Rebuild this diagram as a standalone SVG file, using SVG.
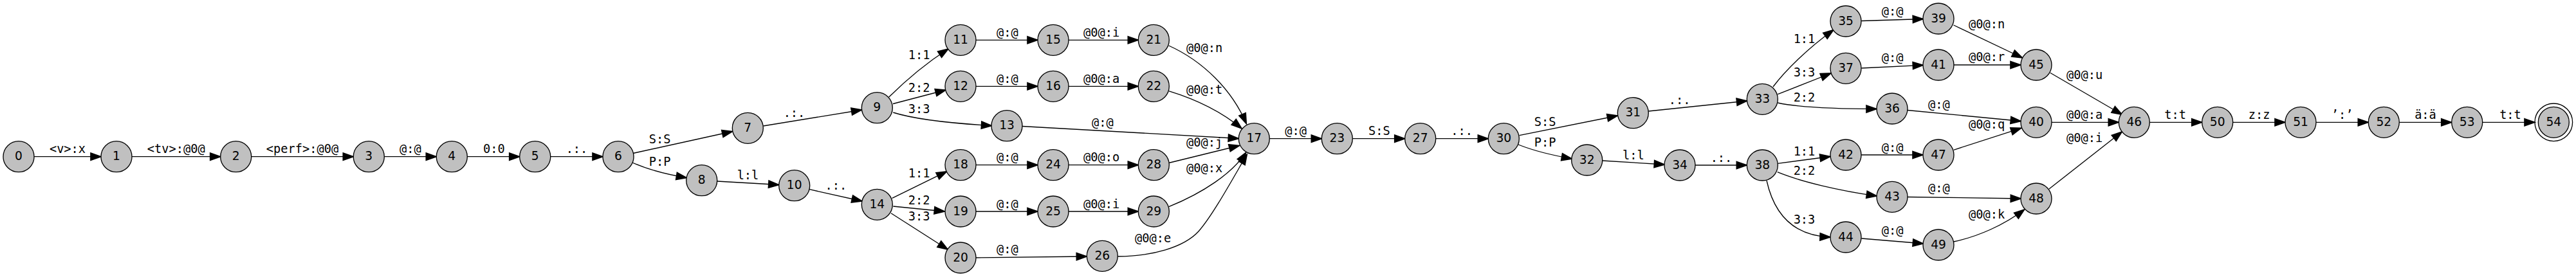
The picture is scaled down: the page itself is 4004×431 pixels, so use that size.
<svg xmlns="http://www.w3.org/2000/svg" width="4004" height="431" viewBox="0 0 4004 431">
<style>
.n circle{fill:#c0c0c0;stroke:#000;stroke-width:1.33}
.n circle.o{fill:none}
.n text{font-family:"DejaVu Sans",sans-serif;font-size:18.67px;text-anchor:middle;fill:#000}
.e path{fill:none;stroke:#000;stroke-width:1.33;marker-end:url(#arr)}
.e text{font-family:"DejaVu Sans Mono",monospace;font-size:18.67px;text-anchor:middle;fill:#000}
</style>
<defs>
<marker id="arr" markerUnits="userSpaceOnUse" markerWidth="16" markerHeight="12" viewBox="0 0 13.3 9.34" refX="13.3" refY="4.67" orient="auto" overflow="visible">
<path d="M0,0 L13.3,4.67 L0,9.34 Z" fill="#000" stroke="#000" stroke-width="1.33"/>
</marker>
</defs>
<rect width="4004" height="431" fill="#fff"/>
<g id="edges" class="e">
<path d="M53,243.7 L157,243.7"/><text x="105" y="238.4">&lt;v&gt;:x</text>
<path d="M205,243.7 L342.7,243.7"/><text x="273.8" y="238.4">&lt;tv&gt;:@0@</text>
<path d="M390.7,243.7 L549.3,243.7"/><text x="470" y="238.4">&lt;perf&gt;:@0@</text>
<path d="M597.3,243.7 L678.3,243.7"/><text x="637.8" y="238.4">@:@</text>
<path d="M726.3,243.7 L807.7,243.7"/><text x="767.8" y="238.4">0:0</text>
<path d="M855.7,243.7 L937,243.7"/><text x="896.5" y="238.4">.:.</text>
<path d="M984,238.5 L1138.5,204.5"/><text x="1025.7" y="222.5">S:S</text>
<path d="M983,253 C1010,265 1040,272 1067.3,276.5"/><text x="1025.7" y="258">P:P</text>
<path d="M1186.3,196 L1339.5,171"/><text x="1234.5" y="181.5">.:.</text>
<path d="M1114.7,282 L1210.7,287.5"/><text x="1162.5" y="279">l:l</text>
<path d="M1258.3,294.7 L1340,313"/><text x="1299.3" y="295">.:.</text>
<path d="M1381.7,151 C1405,128 1440,98 1474,76"/><text x="1428.7" y="91.5">1:1</text>
<path d="M1388,161.5 L1470,140"/><text x="1428.7" y="143">2:2</text>
<path d="M1388.3,175 C1420,185 1480,192 1541.5,195.5"/><text x="1428.7" y="175.5">3:3</text>
<path d="M1589,196.5 L1925.3,215.5"/><text x="1713.8" y="197">@:@</text>
<path d="M1517,62.3 L1613,62.3"/><text x="1565.8" y="57">@:@</text>
<path d="M1517,134.3 L1613,134.3"/><text x="1565.8" y="129">@:@</text>
<path d="M1661,62.3 L1769.3,62.3"/><text x="1712.2" y="57">@0@:i</text>
<path d="M1661,134.3 L1769.3,134.3"/><text x="1712.2" y="129">@0@:a</text>
<path d="M1816.7,71 C1870,95 1915,140 1937.3,192.5"/><text x="1872.2" y="81">@0@:n</text>
<path d="M1816.7,141.7 C1860,155 1900,175 1930,200"/><text x="1872.2" y="146">@0@:t</text>
<path d="M1386.7,308.3 L1471.7,266.7"/><text x="1428.7" y="276">1:1</text>
<path d="M1388.3,321 L1468.3,329"/><text x="1428.7" y="318">2:2</text>
<path d="M1385,331.7 L1473.3,388.3"/><text x="1428.7" y="343">3:3</text>
<path d="M1517,256.7 L1613,256.7"/><text x="1565.8" y="251.4">@:@</text>
<path d="M1517,329 L1613,329"/><text x="1565.8" y="323.7">@:@</text>
<path d="M1517,401 L1689.3,399"/><text x="1565.8" y="394">@:@</text>
<path d="M1661,256.7 L1769.3,256.7"/><text x="1712.2" y="251.4">@0@:o</text>
<path d="M1661,329 L1769.3,329"/><text x="1712.2" y="323.7">@0@:i</text>
<path d="M1816.7,253.5 L1926.5,226.5"/><text x="1872.2" y="228">@0@:j</text>
<path d="M1816.7,321.7 C1870,300 1915,270 1936.7,237.3"/><text x="1872.2" y="267.7">@0@:x</text>
<path d="M1737.3,399 C1790,399 1840,385 1863,360 C1885,335 1915,280 1938.3,240"/><text x="1792.2" y="377">@0@:e</text>
<path d="M1973.3,215.7 L2054.3,215.7"/><text x="2014.2" y="210.4">@:@</text>
<path d="M2102.3,215.7 L2183.7,215.7"/><text x="2143.8" y="210.4">S:S</text>
<path d="M2231.7,215.7 L2313.3,215.7"/><text x="2272.2" y="210.4">.:.</text>
<path d="M2361.7,210.7 L2514.3,180"/><text x="2401.7" y="195.5">S:S</text>
<path d="M2360,225 C2385,235 2415,242 2443.3,247"/><text x="2401.7" y="228">P:P</text>
<path d="M2490.7,250 L2587.3,256"/><text x="2538.8" y="248">l:l</text>
<path d="M2562.3,173 L2715.5,157"/><text x="2610.7" y="161.5">.:.</text>
<path d="M2635,257 L2715.3,257"/><text x="2675.5" y="252">.:.</text>
<path d="M2756,135 C2775,110 2810,75 2850,46.5"/><text x="2804.5" y="66.5">1:1</text>
<path d="M2763.3,146.7 L2846,114"/><text x="2804.5" y="119">3:3</text>
<path d="M2763.3,160 C2800,168 2860,169.5 2917,169.5"/><text x="2804.5" y="157.5">2:2</text>
<path d="M2763.3,254.3 L2845,243.5"/><text x="2804.5" y="242">1:1</text>
<path d="M2762.7,267.7 C2800,283 2860,297 2917.3,305"/><text x="2804.5" y="271.5">2:2</text>
<path d="M2746,281 C2758,335 2790,367 2845,369"/><text x="2804.5" y="347.5">3:3</text>
<path d="M2893.3,32.5 L2989.3,29.5"/><text x="2941.7" y="24">@:@</text>
<path d="M2893.3,106 L2989.3,101.3"/><text x="2941.7" y="96">@:@</text>
<path d="M2965,171.5 L3141.3,188.5"/><text x="3013.8" y="168.7">@:@</text>
<path d="M2893,241 L2989,241"/><text x="2941.7" y="235.7">@:@</text>
<path d="M2965,306.5 L3141.3,309"/><text x="3013.8" y="298.7">@:@</text>
<path d="M2893.3,371 L2989.3,379"/><text x="2941.7" y="365.3">@:@</text>
<path d="M3036.5,39 L3143.5,90"/><text x="3088.2" y="43.7">@0@:n</text>
<path d="M3037,101 L3141,101"/><text x="3088.2" y="95">@0@:r</text>
<path d="M3186.7,113.3 L3298.5,178.3"/><text x="3240.2" y="123">@0@:u</text>
<path d="M3189,190.3 L3293.3,190.3"/><text x="3240.2" y="185">@0@:a</text>
<path d="M3036.7,233.3 L3141.7,199.3"/><text x="3088.2" y="200">@0@:q</text>
<path d="M3185,294 L3298.3,205"/><text x="3240.2" y="221">@0@:i</text>
<path d="M3036.7,376 C3075,368 3115,350 3146.7,326"/><text x="3088.2" y="339.7">@0@:k</text>
<path d="M3341.3,190.3 L3422.7,190.3"/><text x="3381.2" y="185">t:t</text>
<path d="M3470.7,190.3 L3552,190.3"/><text x="3511.7" y="185">z:z</text>
<path d="M3600,190.3 L3681.3,190.3"/><text x="3640.7" y="185">&#8217;:&#8217;</text>
<path d="M3729.3,190.3 L3810.7,190.3"/><text x="3770" y="185">ä:ä</text>
<path d="M3858.7,190.3 L3940,190.3"/><text x="3902" y="185">t:t</text>
</g>
<g class="n">
<g id="n0"><circle cx="29" cy="243.7" r="24"/><text x="29" y="249.2">0</text></g>
<g id="n1"><circle cx="181" cy="243.7" r="24"/><text x="181" y="249.2">1</text></g>
<g id="n2"><circle cx="366.7" cy="243.7" r="24"/><text x="366.7" y="249.2">2</text></g>
<g id="n3"><circle cx="573.3" cy="243.7" r="24"/><text x="573.3" y="249.2">3</text></g>
<g id="n4"><circle cx="702.3" cy="243.7" r="24"/><text x="702.3" y="249.2">4</text></g>
<g id="n5"><circle cx="831.7" cy="243.7" r="24"/><text x="831.7" y="249.2">5</text></g>
<g id="n6"><circle cx="961" cy="243.7" r="24"/><text x="961" y="249.2">6</text></g>
<g id="n7"><circle cx="1162.3" cy="199.3" r="24"/><text x="1162.3" y="204.8">7</text></g>
<g id="n8"><circle cx="1090.7" cy="280.7" r="24"/><text x="1090.7" y="286.2">8</text></g>
<g id="n9"><circle cx="1363.3" cy="167.7" r="24"/><text x="1363.3" y="173.2">9</text></g>
<g id="n10"><circle cx="1234.7" cy="288.7" r="24"/><text x="1234.7" y="294.2">10</text></g>
<g id="n11"><circle cx="1493" cy="62.3" r="24"/><text x="1493" y="67.8">11</text></g>
<g id="n12"><circle cx="1493" cy="134.3" r="24"/><text x="1493" y="139.8">12</text></g>
<g id="n13"><circle cx="1565" cy="195.7" r="24"/><text x="1565" y="201.2">13</text></g>
<g id="n14"><circle cx="1363.3" cy="318.3" r="24"/><text x="1363.3" y="323.8">14</text></g>
<g id="n15"><circle cx="1637" cy="62.3" r="24"/><text x="1637" y="67.8">15</text></g>
<g id="n16"><circle cx="1637" cy="134.3" r="24"/><text x="1637" y="139.8">16</text></g>
<g id="n17"><circle cx="1949.3" cy="215.7" r="24"/><text x="1949.3" y="221.2">17</text></g>
<g id="n18"><circle cx="1493" cy="256.7" r="24"/><text x="1493" y="262.2">18</text></g>
<g id="n19"><circle cx="1493" cy="329" r="24"/><text x="1493" y="334.5">19</text></g>
<g id="n20"><circle cx="1493" cy="401" r="24"/><text x="1493" y="406.5">20</text></g>
<g id="n21"><circle cx="1793.3" cy="62.3" r="24"/><text x="1793.3" y="67.8">21</text></g>
<g id="n22"><circle cx="1793.3" cy="134.3" r="24"/><text x="1793.3" y="139.8">22</text></g>
<g id="n23"><circle cx="2078.3" cy="215.7" r="24"/><text x="2078.3" y="221.2">23</text></g>
<g id="n24"><circle cx="1637" cy="256.7" r="24"/><text x="1637" y="262.2">24</text></g>
<g id="n25"><circle cx="1637" cy="329" r="24"/><text x="1637" y="334.5">25</text></g>
<g id="n26"><circle cx="1713.3" cy="398.3" r="24"/><text x="1713.3" y="403.8">26</text></g>
<g id="n27"><circle cx="2207.7" cy="215.7" r="24"/><text x="2207.7" y="221.2">27</text></g>
<g id="n28"><circle cx="1793.3" cy="256.7" r="24"/><text x="1793.3" y="262.2">28</text></g>
<g id="n29"><circle cx="1793.3" cy="329" r="24"/><text x="1793.3" y="334.5">29</text></g>
<g id="n30"><circle cx="2337.3" cy="215.7" r="24"/><text x="2337.3" y="221.2">30</text></g>
<g id="n31"><circle cx="2538.3" cy="175.7" r="24"/><text x="2538.3" y="181.2">31</text></g>
<g id="n32"><circle cx="2466.7" cy="249" r="24"/><text x="2466.7" y="254.5">32</text></g>
<g id="n33"><circle cx="2739.3" cy="154.3" r="24"/><text x="2739.3" y="159.8">33</text></g>
<g id="n34"><circle cx="2611" cy="257" r="24"/><text x="2611" y="262.5">34</text></g>
<g id="n35"><circle cx="2869" cy="33" r="24"/><text x="2869" y="38.5">35</text></g>
<g id="n36"><circle cx="2941" cy="169" r="24"/><text x="2941" y="174.5">36</text></g>
<g id="n37"><circle cx="2869" cy="106.3" r="24"/><text x="2869" y="111.8">37</text></g>
<g id="n38"><circle cx="2739.3" cy="257" r="24"/><text x="2739.3" y="262.5">38</text></g>
<g id="n39"><circle cx="3013" cy="29" r="24"/><text x="3013" y="34.5">39</text></g>
<g id="n40"><circle cx="3165" cy="190.3" r="24"/><text x="3165" y="195.8">40</text></g>
<g id="n41"><circle cx="3013" cy="101" r="24"/><text x="3013" y="106.5">41</text></g>
<g id="n42"><circle cx="2869" cy="241" r="24"/><text x="2869" y="246.5">42</text></g>
<g id="n43"><circle cx="2941" cy="306.3" r="24"/><text x="2941" y="311.8">43</text></g>
<g id="n44"><circle cx="2869" cy="369" r="24"/><text x="2869" y="374.5">44</text></g>
<g id="n45"><circle cx="3165" cy="101" r="24"/><text x="3165" y="106.5">45</text></g>
<g id="n46"><circle cx="3317.3" cy="190.3" r="24"/><text x="3317.3" y="195.8">46</text></g>
<g id="n47"><circle cx="3013" cy="241" r="24"/><text x="3013" y="246.5">47</text></g>
<g id="n48"><circle cx="3165" cy="309" r="24"/><text x="3165" y="314.5">48</text></g>
<g id="n49"><circle cx="3013" cy="381" r="24"/><text x="3013" y="386.5">49</text></g>
<g id="n50"><circle cx="3446.7" cy="190.3" r="24"/><text x="3446.7" y="195.8">50</text></g>
<g id="n51"><circle cx="3576" cy="190.3" r="24"/><text x="3576" y="195.8">51</text></g>
<g id="n52"><circle cx="3705.3" cy="190.3" r="24"/><text x="3705.3" y="195.8">52</text></g>
<g id="n53"><circle cx="3834.7" cy="190.3" r="24"/><text x="3834.7" y="195.8">53</text></g>
<g id="n54"><circle cx="3969.3" cy="190.3" r="24"/><circle class="o" cx="3969.3" cy="190.3" r="29.3"/><text x="3969.3" y="195.8">54</text></g>
</g>
</svg>
